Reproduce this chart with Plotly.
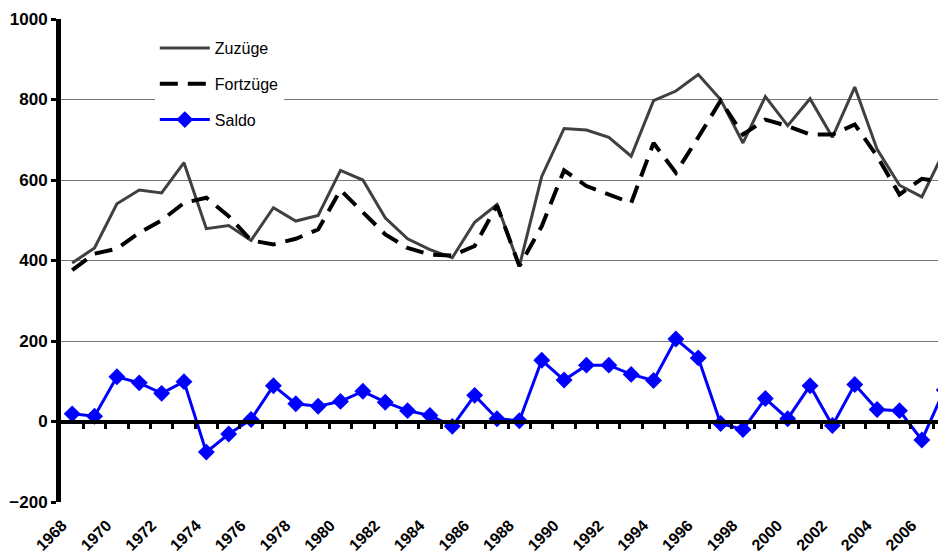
import plotly.graph_objects as go

# Data
years = list(range(1968, 2008))

zuzuege = [394, 431, 541, 575, 568, 643, 479, 487, 450, 531,
           498, 512, 624, 600, 506, 454, 427, 407, 495, 539,
           386, 609, 728, 724, 706, 659, 797, 821, 862, 800,
           692, 807, 735, 802, 706, 831, 676, 587, 558, 672]

fortzuege = [376, 417, 429, 469, 500, 543, 556, 510, 450, 440,
             454, 477, 575, 519, 465, 431, 415, 412, 436, 537,
             386, 485, 624, 585, 564, 543, 692, 618, 706, 797,
             713, 750, 734, 713, 713, 738, 659, 564, 603, 595]

saldo = [19, 13, 111, 96, 70, 99, -76, -31, 5, 89,
         44, 38, 50, 75, 48, 27, 15, -12, 65, 7,
         2, 152, 103, 140, 140, 117, 102, 205, 158, -5,
         -20, 57, 7, 89, -10, 92, 30, 27, -46, 78]

label_years = list(range(1968, 2007, 2))
boundaries = [y + 0.5 for y in range(1968, 2007)]
y_ticks = [-200, 0, 200, 400, 600, 800, 1000]

# Colors
dark_gray = 'rgb(64,64,64)'
blue = 'rgb(0,0,255)'
grid_gray = 'rgb(120,120,120)'

font_family = 'Liberation Sans, Arial, sans-serif'
x_range = [1967.5, 2007.08]

fig = go.Figure()

fig.add_trace(go.Scatter(x=years, y=zuzuege, mode='lines', name='Zuzüge',
                         legendgroup='a', line=dict(color=dark_gray, width=3)))

fig.add_trace(go.Scatter(x=years, y=fortzuege, mode='lines', name='Fortzüge',
                         legendgroup='b',
                         line=dict(color='black', width=4, dash='18px,10px')))

fig.add_trace(go.Scatter(x=years, y=saldo, mode='lines+markers', name='Saldo',
                         legendgroup='c', line=dict(color=blue, width=3),
                         marker=dict(symbol='diamond', size=13, color=blue)))

# invisible trace that puts the zero axis with its tick marks on xaxis2
fig.add_trace(go.Scatter(x=[x_range[0]], y=[0], xaxis='x2', mode='markers',
                         marker=dict(opacity=0), showlegend=False, hoverinfo='skip'))

# page body has an 8px margin, so the figure is sized to fit the window
fig.update_layout(
    width=938, height=549,
    margin=dict(l=53, r=0, t=11, b=55, autoexpand=False),
    plot_bgcolor='white',
    paper_bgcolor='white',
    font=dict(family=font_family, color='black'),
    xaxis=dict(range=x_range, automargin=False,
               tickmode='array', tickvals=label_years,
               ticktext=[str(y) for y in label_years],
               tickangle=-45,
               tickfont=dict(size=16, weight='bold'),
               showgrid=False, zeroline=False, showline=False,
               ticks='', ticklabelstandoff=10, ticklabelshift=-10),
    xaxis2=dict(range=x_range, overlaying='x', anchor='free', position=1/6,
                showline=True, linecolor='black', linewidth=4,
                ticks='outside', ticklen=5, tickwidth=3, tickcolor='black',
                tickmode='array', tickvals=boundaries,
                showticklabels=False, showgrid=False, zeroline=False),
    yaxis=dict(range=[-200, 1000], automargin=False,
               tickmode='array', tickvals=y_ticks,
               tickfont=dict(size=17, weight='bold'),
               showgrid=True, gridcolor=grid_gray, gridwidth=1,
               zeroline=False,
               showline=True, linecolor='black', linewidth=5,
               ticks='outside', ticklen=5, tickwidth=3, tickcolor='black'),
    legend=dict(x=0.106, y=0.975, xanchor='left', yanchor='top',
                bgcolor='white', font=dict(size=16, family=font_family),
                traceorder='grouped', tracegroupgap=12, itemwidth=50),
    showlegend=True,
)

fig.write_html("out.html")
